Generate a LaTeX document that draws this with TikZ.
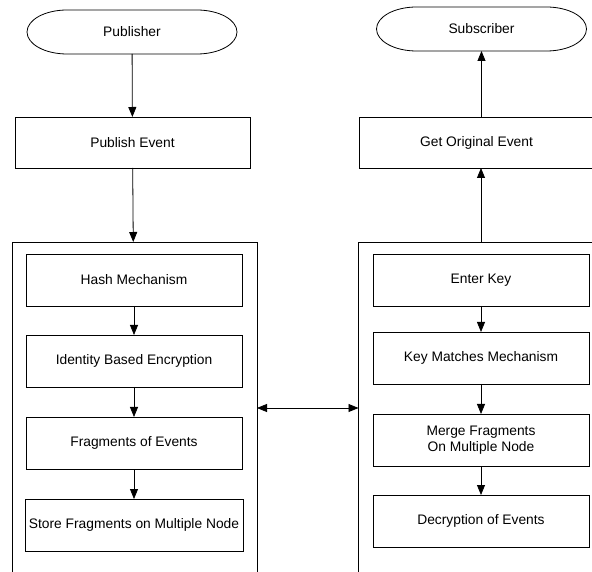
\documentclass[tikz,border=0pt]{standalone}
\usepackage{fontspec}
\setmainfont{Liberation Sans}
\usetikzlibrary{arrows.meta}
\usetikzlibrary{positioning}
\tikzset{
  >={Triangle[length=10pt,width=8pt]},
  node distance = 30pt,
  every node/.style = {font=\fontsize{13.8}{16}\selectfont, outer sep=0pt},
  terminal/.style = {minimum width=210pt, minimum height=44pt},
  outerbox/.style = {draw, minimum width=235pt, minimum height=51pt},
  stepbox/.style = {draw, minimum width=216pt, minimum height=52pt, inner xsep=4pt, align=center},
  frame/.style = {draw, minimum width=245pt, minimum height=332pt},
}
% outline of a start/end node
\newcommand{\terminalpath}[1]{%
  \draw ([xshift=-65pt]#1.north) -- ([xshift=65pt]#1.north)
    arc[start angle=90, end angle=-90, x radius=40pt, y radius=22pt]
    -- ([xshift=-65pt]#1.south)
    arc[start angle=270, end angle=90, x radius=40pt, y radius=22pt] -- cycle;}

\begin{document}
\begin{tikzpicture}[x=1pt, y=1pt, line width=0.8pt]
    \useasboundingbox (0,0) rectangle (592,571);
    \clip (0,0) rectangle (592,571);
    % publisher side
    \node [terminal] (pub) at (132,539) {Publisher};
    \node [outerbox] (pubev) at (132.5,428.5) {Publish Event};
    \node [frame] (lframe) at (134.5,163) {};
    \node [stepbox] (hash) at (134,291) {Hash Mechanism};
    \node [stepbox, below = 29pt of hash] (ibe) {Identity Based Encryption};
    \node [stepbox, below = 30pt of ibe] (frag) {Fragments of Events};
    \node [stepbox, below = 30pt of frag] (store) {Store Fragments on Multiple Node};
    % subscriber side
    \node [terminal] (sub) at (481.5,542) {Subscriber};
    \node [outerbox] (orig) at (476.5,428.5) {Get Original Event};
    \node [frame] (rframe) at (481,163) {};
    \node [stepbox] (key) at (481,291) {Enter Key};
    \node [stepbox, below = 26pt of key] (match) {Key Matches Mechanism};
    \node [stepbox, below = 30pt of match] (merge) {Merge Fragments\\ On Multiple Node};
    \node [stepbox, below = 29pt of merge] (decrypt) {Decryption of Events};
    \terminalpath{pub}
    \terminalpath{sub}
    \draw [->] (pub) -- (pubev);
    \draw [->] (pubev) -- (lframe);
    \draw [->] (hash) -- (ibe);
    \draw [->] (ibe) -- (frag);
    \draw [->] (frag) -- (store);
    \draw [<->] (lframe.east) -- (rframe.west);
    \draw [->] (key) -- (match);
    \draw [->] (match) -- (merge);
    \draw [->] (merge) -- (decrypt);
    \draw [->] (rframe.north) -- (rframe.north |- orig.south);
    \draw [->] (orig.north -| sub.south) -- (sub.south);
  \end{tikzpicture}
\end{document}
